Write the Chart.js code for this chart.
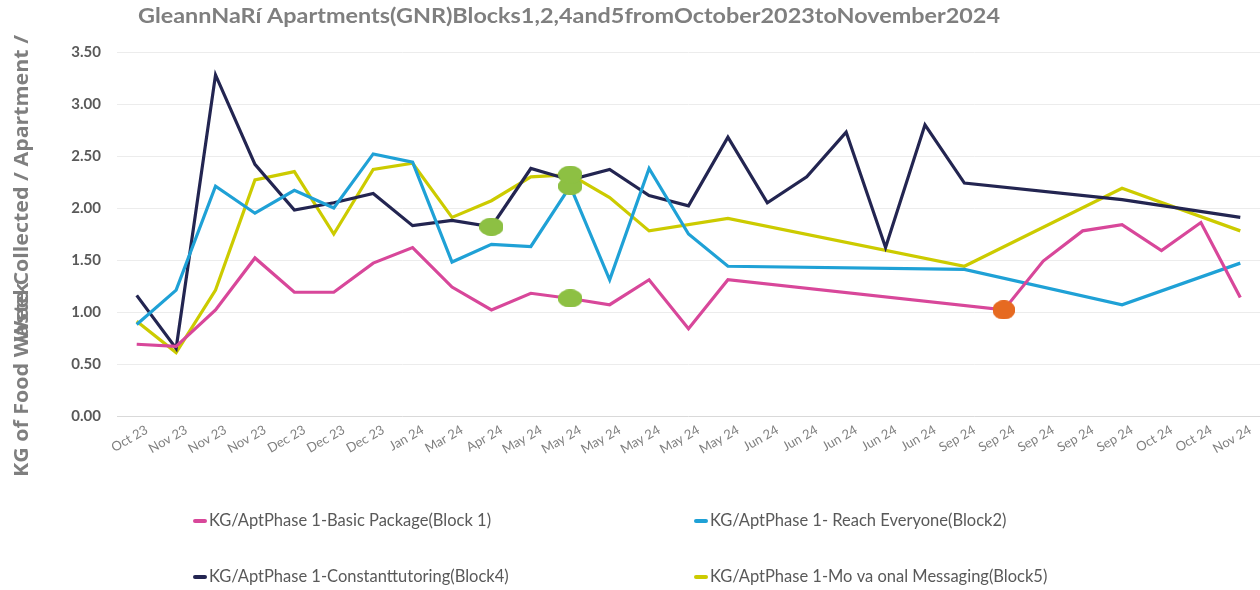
<!DOCTYPE html>
<html lang="en">
<head>
    <meta charset="UTF-8">
    <title>GNR food waste per apartment</title>
    <script src="https://cdn.jsdelivr.net/npm/chart.js"></script>
    <style>
        body {
            margin: 0;
            padding: 0;
            background: #ffffff;
        }

        .chart-container {
            width: 1260px;
            height: 590px;
            position: relative;
        }
    </style>
</head>
<body>

<div class="chart-container">
    <canvas id="wasteChart"></canvas>
</div>

<script>
    // category labels (one per collection)
    const months = ['Oct 23', 'Nov 23', 'Nov 23', 'Nov 23', 'Dec 23', 'Dec 23', 'Dec 23', 'Jan 24', 'Mar 24', 'Apr 24',
        'May 24', 'May 24', 'May 24', 'May 24', 'May 24', 'May 24',
        'Jun 24', 'Jun 24', 'Jun 24', 'Jun 24', 'Jun 24',
        'Sep 24', 'Sep 24', 'Sep 24', 'Sep 24', 'Sep 24',
        'Oct 24', 'Oct 24', 'Nov 24'];

    // KG / apartment per block (null = no point, line joins across)
    const block1 = [0.69, 0.67, 1.02, 1.52, 1.19, 1.19, 1.47, 1.62, 1.24, 1.02, 1.18, 1.13, 1.07, 1.31, 0.84, 1.31,
        null, null, null, null, null, null, 1.02, 1.49, 1.78, 1.84, 1.59, 1.86, 1.14];
    const block2 = [0.88, 1.21, 2.21, 1.95, 2.17, 2.00, 2.52, 2.44, 1.48, 1.65, 1.63, 2.21, 1.31, 2.38, 1.75, 1.44,
        null, null, null, null, null, 1.41, null, null, null, 1.07, null, null, 1.47];
    const block4 = [1.16, 0.65, 3.28, 2.42, 1.98, 2.05, 2.14, 1.83, 1.88, 1.82, 2.38, 2.27, 2.37, 2.12, 2.02, 2.68,
        2.05, 2.30, 2.73, 1.62, 2.80, 2.24, null, null, null, 2.08, null, null, 1.91];
    const block5 = [0.91, 0.61, 1.21, 2.27, 2.35, 1.75, 2.37, 2.43, 1.91, 2.07, 2.30, 2.32, 2.10, 1.78, null, 1.90,
        null, null, null, null, null, 1.44, null, null, null, 2.19, null, null, 1.78];

    const seriesNames = ['KG/AptPhase 1-Basic Package(Block 1)', 'KG/AptPhase 1- Reach Everyone(Block2)',
        'KG/AptPhase 1-Constanttutoring(Block4)', 'KG/AptPhase 1-Mo va onal Messaging(Block5)'];

    // highlighted points (index into months)
    const greenMarks1 = [11];
    const greenMarks2 = [11];
    const greenMarks4 = [9];
    const greenMarks5 = [11];
    const orangeMarks1 = [22];

    const yTicks = [0, 0.5, 1, 1.5, 2, 2.5, 3, 3.5];

    const chartTitle = 'GleannNaRí Apartments(GNR)Blocks1,2,4and5fromOctober2023toNovember2024';
    const yTitle = 'KG of Food Waste Collected / Apartment /';
    const yTitle2 = 'Week';

    // ellipse shaped markers
    function makeDot(w, h, color) {
        const c = document.createElement('canvas');
        c.width = w;
        c.height = h;
        const g = c.getContext('2d');
        g.fillStyle = color;
        g.beginPath();
        g.ellipse(w / 2, h / 2, w / 2, h / 2, 0, 0, Math.PI * 2);
        g.fill();
        return c;
    }
    const greenDot = makeDot(24, 18, '#8dc043');
    const orangeDot = makeDot(22, 19, '#e66a21');

    function markerStyle(green, orange) {
        return function (ctx) {
            if (orange.includes(ctx.dataIndex)) return orangeDot;
            if (green.includes(ctx.dataIndex)) return greenDot;
            return 'circle';
        };
    }
    function markerRadius(green, orange) {
        return function (ctx) {
            return green.includes(ctx.dataIndex) || orange.includes(ctx.dataIndex) ? 10 : 0;
        };
    }

    function lineSet(label, data, color, green, orange) {
        return {
            label: label,
            data: data,
            borderColor: color,
            backgroundColor: color,
            borderWidth: 3.2,
            borderJoinStyle: 'miter',
            tension: 0,
            fill: false,
            spanGaps: true,
            pointStyle: markerStyle(green, orange),
            pointRadius: markerRadius(green, orange),
            pointHoverRadius: 0,
            pointBorderWidth: 0
        };
    }

    const datasets = [
        lineSet(seriesNames[0], block1, '#d8479a', greenMarks1, orangeMarks1),
        lineSet(seriesNames[1], block2, '#1fa1d6', greenMarks2, []),
        lineSet(seriesNames[2], block4, '#232551', greenMarks4, []),
        lineSet(seriesNames[3], block5, '#cccb00', greenMarks5, [])
    ];

    // points with markers go on top of every line
    const markersOnTop = {
        id: 'markersOnTop',
        afterDatasetsDraw(chart) {
            const ctx = chart.ctx;
            chart.data.datasets.forEach((ds, i) => {
                const meta = chart.getDatasetMeta(i);
                meta.data.forEach(pt => {
                    if (pt.options && pt.options.radius > 0) pt.draw(ctx, chart.chartArea);
                });
            });
        }
    };

    // title, axis title and two-column legend
    const textsPlugin = {
        id: 'texts',
        afterDraw(chart) {
            const ctx = chart.ctx;
            ctx.save();

            ctx.fillStyle = '#7f7f7f';
            ctx.font = 'bold 20px Lato';
            ctx.textAlign = 'left';
            ctx.textBaseline = 'middle';
            const tw = ctx.measureText(chartTitle).width;
            ctx.save();
            ctx.translate(138, 17);
            ctx.scale(862 / tw, 1);
            ctx.fillText(chartTitle, 0, 0);
            ctx.restore();

            ctx.font = 'bold 20px "Open Sans"';
            ctx.textAlign = 'center';
            const yw = ctx.measureText(yTitle).width;
            ctx.save();
            ctx.translate(22, 256);
            ctx.rotate(-Math.PI / 2);
            ctx.scale(442 / yw, 1);
            ctx.fillText(yTitle, 0, 0);
            ctx.restore();
            ctx.save();
            ctx.translate(22, 312);
            ctx.rotate(-Math.PI / 2);
            ctx.scale(442 / yw, 1);
            ctx.fillText(yTitle2, 0, 0);
            ctx.restore();

            const cols = [193, 694];
            const rows = [521, 577];
            ctx.font = '16.5px Lato';
            ctx.textAlign = 'left';
            chart.data.datasets.forEach((ds, i) => {
                const x = cols[i % 2];
                const y = rows[Math.floor(i / 2)];
                ctx.strokeStyle = ds.borderColor;
                ctx.lineWidth = 4;
                ctx.lineCap = 'round';
                ctx.beginPath();
                ctx.moveTo(x + 2, y);
                ctx.lineTo(x + 12, y);
                ctx.stroke();
                ctx.fillStyle = '#595959';
                ctx.fillText(ds.label, x + 16, y);
            });

            ctx.restore();
        }
    };

    const ctx = document.getElementById('wasteChart').getContext('2d');
    new Chart(ctx, {
        type: 'line',
        data: {
            labels: months,
            datasets: datasets
        },
        options: {
            responsive: true,
            maintainAspectRatio: false,
            animation: false,
            layout: {
                padding: { top: 52, left: 0, right: 0, bottom: 0 }
            },
            plugins: {
                legend: { display: false },
                title: { display: false },
                tooltip: { enabled: false }
            },
            scales: {
                x: {
                    offset: true,
                    grid: { display: false, drawTicks: false },
                    border: { display: false },
                    ticks: {
                        autoSkip: false,
                        minRotation: 30,
                        maxRotation: 30,
                        padding: 6,
                        labelOffset: 10,
                        color: '#808080',
                        font: { family: 'Lato', size: 13 }
                    },
                    afterFit(scale) {
                        scale.height = 174;
                        scale.paddingLeft = 0;
                        scale.paddingRight = 0;
                    }
                },
                y: {
                    min: 0,
                    max: 3.5,
                    afterBuildTicks(scale) {
                        scale.ticks = yTicks.map(v => ({ value: v }));
                    },
                    grid: {
                        drawTicks: false,
                        color: c => c.tick && c.tick.value === 0 ? '#d9d9d9' : '#ececec',
                        lineWidth: 1
                    },
                    border: { display: false },
                    ticks: {
                        padding: 16,
                        color: '#595959',
                        font: { family: 'Lato', size: 15, weight: 'bold' },
                        callback: v => Number(v).toFixed(2)
                    },
                    afterFit(scale) {
                        scale.width = 117;
                    }
                }
            }
        },
        plugins: [markersOnTop, textsPlugin]
    });
</script>

</body>
</html>
